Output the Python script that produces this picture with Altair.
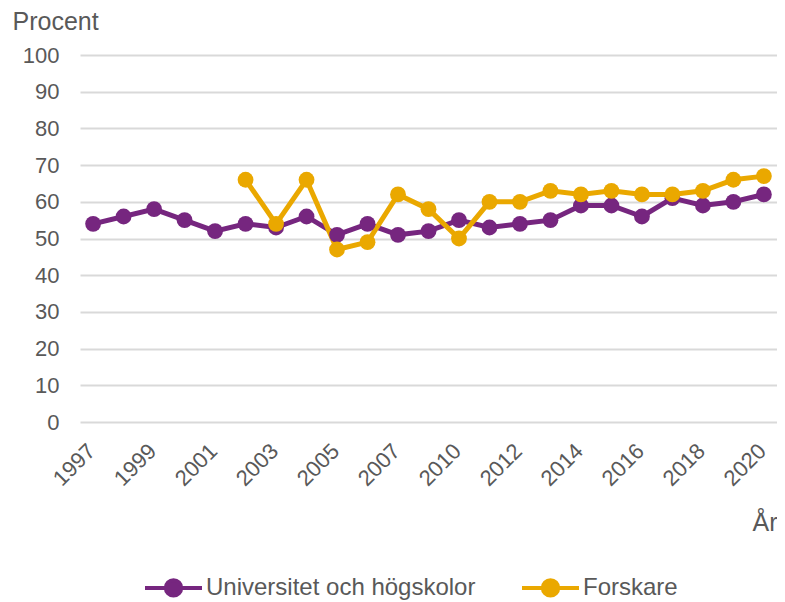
import altair as alt
import pandas as pd

years = ["1997","1998","1999","2000","2001","2002","2003","2004","2005","2006","2007","2008",
         "2010","2011","2012","2013","2014","2015","2016","2017","2018","2019","2020"]
univ = [54,56,58,55,52,54,53,56,51,54,51,52,55,53,54,55,59,59,56,61,59,60,62]
fors_years = ["2002","2003","2004","2005","2006","2007","2008","2010","2011","2012","2013",
              "2014","2015","2016","2017","2018","2019","2020"]
fors = [66,54,66,47,49,62,58,50,60,60,63,62,63,62,62,63,66,67]
label_years = ["1997","1999","2001","2003","2005","2007","2010","2012","2014","2016","2018","2020"]

s1 = "Universitet och högskolor"
s2 = "Forskare"
df = pd.concat([
    pd.DataFrame({"År": years, "Procent": univ, "Serie": s1}),
    pd.DataFrame({"År": fors_years, "Procent": fors, "Serie": s2}),
])

FONT = "Liberation Sans"
GREY = "#595959"
sym = "M-1,0H1M-0.27,0A0.27,0.27,0,1,1,0.27,0A0.27,0.27,0,1,1,-0.27,0Z"

chart = alt.Chart(df).mark_line(
    strokeWidth=5,
    point=alt.OverlayMarkDef(filled=True, size=250, opacity=1),
).encode(
    x=alt.X("År:N", sort=years,
            scale=alt.Scale(type="point", domain=years, padding=0.43),
            axis=alt.Axis(values=label_years, labelAngle=-45, labelFontSize=22,
                          labelColor=GREY, labelFont=FONT, ticks=False, domain=False,
                          grid=False, labelPadding=18, labelOffset=-9,
                          title="År", titleFont=FONT, titleFontSize=25, titleColor=GREY,
                          titleFontWeight="normal", titleAnchor="end", titleAlign="right",
                          titleX=697, titleY=108, titleBaseline="alphabetic")),
    y=alt.Y("Procent:Q",
            scale=alt.Scale(domain=[0, 100], nice=False, zero=True),
            axis=alt.Axis(values=list(range(0, 101, 10)), labelFontSize=22, labelColor=GREY,
                          labelFont=FONT, ticks=False, domain=False, labelPadding=21,
                          gridColor="#d9d9d9", gridWidth=2,
                          title="Procent", titleFont=FONT, titleFontSize=25, titleColor=GREY,
                          titleFontWeight="normal", titleAngle=0, titleAlign="left",
                          titleBaseline="alphabetic", titleX=-68, titleY=-26)),
    color=alt.Color("Serie:N", sort=[s1, s2],
                    scale=alt.Scale(domain=[s1, s2], range=["#76267f", "#eaa800"]),
                    legend=alt.Legend(orient="none", legendX=63, legendY=502,
                                      direction="horizontal", title=None,
                                      symbolType=sym, symbolSize=3249,
                                      symbolStrokeWidth=4, labelFontSize=24,
                                      labelFont=FONT, labelColor=GREY,
                                      labelOffset=2, columnPadding=38,
                                      labelLimit=400)),
).properties(
    width=697, height=367,
    padding={"left": 72, "top": 47, "right": 0, "bottom": 179},
    autosize=alt.AutoSizeParams(type="none"),
).configure_view(stroke=None)

chart.save("out.html", embed_options={"renderer": "svg", "actions": False})
